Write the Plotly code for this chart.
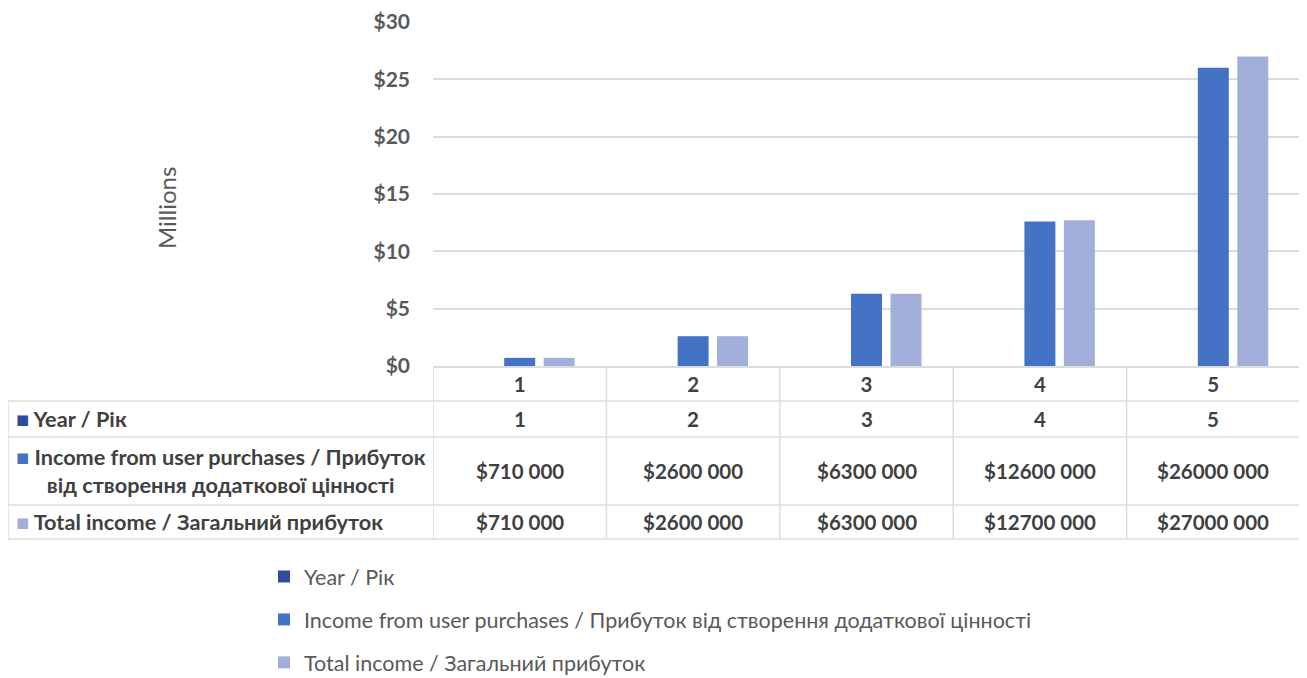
import plotly.graph_objects as go

# ---- data ----
years = ["1", "2", "3", "4", "5"]
year_values = [1, 2, 3, 4, 5]
income_user_purchases = [710000, 2600000, 6300000, 12600000, 26000000]
total_income = [710000, 2600000, 6300000, 12700000, 27000000]
y_tick_values = [0, 5, 10, 15, 20, 25, 30]
y_tick_labels = ["$0", "$5", "$10", "$15", "$20", "$25", "$30"]

series_names = [
    "Year / Рік",
    "Income from user purchases / Прибуток від створення додаткової цінності",
    "Total income / Загальний прибуток",
]
table_labels = [
    "Year / Рік",
    "Income from user purchases / Прибуток<br>від створення додаткової цінності",
    "Total income / Загальний прибуток",
]
colors = ["#2F4D9E", "#4472C4", "#A3AFDB"]

# page has an 8px body margin, so the figure starts 8px in from the window corner
OFF = 8
W, H = 1307 - OFF, 678 - OFF
FONT = "Lato"
TXT = "#404040"
GRID = "#DCDCDC"


def py(p):
    return 1 - (p - OFF) / H


def px(p):
    return (p - OFF) / W


def fmt(v):
    return f"${v // 1000} {v % 1000:03d}"


fig = go.Figure()
series_values = [year_values, income_user_purchases, total_income]
for i, (name, vals) in enumerate(zip(series_names, series_values)):
    fig.add_trace(go.Bar(
        x=years, y=[v / 1e6 for v in vals], name=name,
        marker=dict(color=colors[i], line=dict(width=0)),
        legendgroup=f"g{i}",
    ))

# ---- data table ----
row_y = [419, 471, 522]
table_rows = [
    [str(v) for v in year_values],
    [fmt(v) for v in income_user_purchases],
    [fmt(v) for v in total_income],
]
annotations = []
for r, (label, cells) in enumerate(zip(table_labels, table_rows)):
    annotations.append(dict(
        xref="paper", yref="paper", x=px(14), y=py(row_y[r]),
        xanchor="left", yanchor="middle", align="center",
        text=f'<span style="color:{colors[r]}">■</span> {label}',
        showarrow=False, font=dict(family=FONT, size=21.7, color=TXT, weight="bold"),
    ))
    for c, txt in enumerate(cells):
        annotations.append(dict(
            xref="x", yref="paper", x=c, y=py(row_y[r]),
            xanchor="center", yanchor="middle",
            text=txt, showarrow=False,
            font=dict(family=FONT, size=20.5, color=TXT, weight="bold"),
        ))

annotations.append(dict(
    xref="paper", yref="paper", x=px(167), y=py(208),
    xanchor="center", yanchor="middle",
    text="Millions", textangle=-90, showarrow=False,
    font=dict(family=FONT, size=24, color="#595959"),
))

shapes = []
for k in range(len(years) + 1):
    shapes.append(dict(type="line", xref="x", yref="paper",
                       x0=k - 0.5, x1=k - 0.5, y0=py(366), y1=py(539),
                       line=dict(color=GRID, width=1.5)))
for yy in [401, 437, 505, 539]:
    shapes.append(dict(type="line", xref="paper", yref="paper",
                       x0=px(8), x1=px(1300), y0=py(yy), y1=py(yy),
                       line=dict(color=GRID, width=1.5)))
shapes.append(dict(type="line", xref="paper", yref="paper",
                   x0=px(8), x1=px(8), y0=py(401), y1=py(539),
                   line=dict(color=GRID, width=1.5)))

fig.update_layout(
    width=W, height=H,
    margin=dict(l=0, r=0, t=0, b=0, pad=0, autoexpand=False),
    paper_bgcolor="white", plot_bgcolor="white",
    barmode="group", bargap=0.317, bargroupgap=0.215,
    font=dict(family=FONT, color=TXT),
    xaxis=dict(
        domain=[px(433), px(1300)], type="category",
        range=[-0.5, 4.5], automargin=False,
        showline=True, linecolor=GRID, linewidth=1.5,
        showgrid=False, ticks="", ticklabelstandoff=0,
        tickfont=dict(family=FONT, size=20.5, color=TXT, weight="bold"),
    ),
    yaxis=dict(
        domain=[py(366), py(22)], range=[0, 30], automargin=False,
        tickvals=y_tick_values, ticktext=y_tick_labels,
        showgrid=True, gridcolor=GRID, gridwidth=1.5,
        zeroline=False, showline=False, ticks="",
        ticklabelstandoff=22,
        tickfont=dict(family=FONT, size=21, color="#595959", weight="bold"),
    ),
    showlegend=True,
    legend=dict(
        orientation="v", x=px(264), y=py(556), xanchor="left", yanchor="top",
        font=dict(family=FONT, size=21.5, color="#595959"),
        tracegroupgap=12, bgcolor="rgba(0,0,0,0)",
    ),
    annotations=annotations,
    shapes=shapes,
)

fig.write_html("out.html")
